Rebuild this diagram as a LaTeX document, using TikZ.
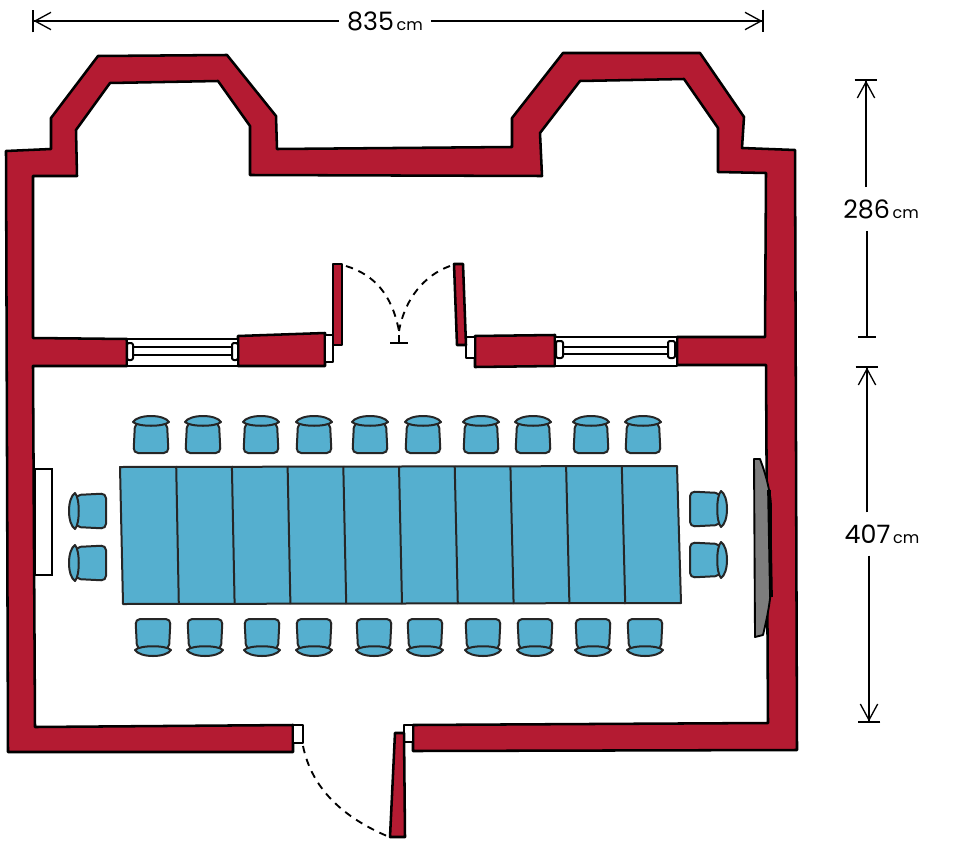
\documentclass[tikz,border=0pt]{standalone}
\usepackage{fontspec}
\setmainfont{Poppins}
\usetikzlibrary{arrows.meta}
\definecolor{wallred}{HTML}{B41B32}
\definecolor{seatblue}{HTML}{55AFCF}
\definecolor{screengray}{HTML}{7D7D7D}
\tikzset{
  wall/.style={fill=wallred, draw=black, line width=1.9pt, line join=round},
  opening/.style={fill=white, draw=black, line width=1.5pt, line join=round},
  swing/.style={draw=black, line width=1.4pt, dash pattern=on 5.5pt off 4.5pt},
  furniture/.style={fill=seatblue, draw=black!85, line width=1.5pt, line join=round},
  dimline/.style={draw=black, line width=0.9pt},
  dimtip/.style={-{Straight Barb[length=12pt,width=13pt,line width=1pt]Bar[width=17pt,line width=1.2pt]}},
  dimend/.style={-{Bar[width=13pt,line width=1.2pt]}},
  dimlabel/.style={inner xsep=6pt, inner ysep=9pt, font=\fontsize{19}{22}\selectfont},
  chair/.pic={
    \draw[furniture, rounded corners=3.5pt] (-16,-12) -- (16,-12) -- (17.5,18) -- (-17.5,18) -- cycle;
    \draw[furniture] (-18,-13) .. controls (-13,-21) and (13,-21) .. (18,-13)
      .. controls (13,-8) and (-13,-8) .. cycle;
  }
}
\newcommand{\cmtext}[1]{#1{\fontsize{12}{14}\selectfont\,cm}}

\begin{document}
\begin{tikzpicture}[x=0.75pt,y=-0.75pt]
  \useasboundingbox (0,0) rectangle (956,856);

  \draw[wall] (413,725) -- (413,751) -- (797,750) -- (795,150) -- (742,148) -- (744,117)
    -- (700,53) -- (563,53) -- (512,118) -- (512,147) -- (277,149) -- (276,116)
    -- (227,55) -- (98,56) -- (51,118) -- (51,149) -- (6,151) -- (8,752) -- (293,752)
    -- (293,725) -- (35,727) -- (33,366) -- (127,366) -- (127,339) -- (33,338) -- (33,176)
    -- (77,176) -- (76,130) -- (110,83) -- (218,81) -- (250,126) -- (250,175) -- (542,176)
    -- (540,133) -- (580,81) -- (684,79) -- (718,128) -- (718,172) -- (766,173) -- (765,337)
    -- (677,337) -- (677,365) -- (766,365) -- (768,723) -- cycle;
  \draw[wall] (238,336) -- (325,333) -- (325,366) -- (238,366) -- cycle;
  \draw[wall] (475,336) -- (555,335) -- (555,366) -- (475,367) -- cycle;

  \draw[opening] (127,339) rectangle (238,366);
  \draw[opening] (133,347) rectangle (232,355);
  \draw[opening, rounded corners=1.5pt] (127,343) rectangle (133,360);
  \draw[opening, rounded corners=1.5pt] (232,343) rectangle (238,360);
  \draw[opening] (555,337) rectangle (677,366);
  \draw[opening] (563,347) rectangle (668,354);
  \draw[opening, rounded corners=1.5pt] (556,341) rectangle (563,358);
  \draw[opening, rounded corners=1.5pt] (668,341) rectangle (675,358);

  \draw[opening] (325,335) rectangle (333,362);
  \draw[opening] (466,337) rectangle (475,358);
  \draw[opening] (293,725) rectangle (303,743);
  \draw[opening] (404,725) rectangle (413,742);
  \draw[wall] (333,264) -- (342,264) -- (342,345) -- (333,345) -- cycle;
  \draw[wall] (454,264) -- (463,264) -- (466,345) -- (457,345) -- cycle;
  \draw[wall] (395,733) -- (404,733) -- (405,837) -- (390,837) -- cycle;

  \coordinate (leftLeaf) at (346,266);
  \coordinate (rightLeaf) at (450,266);
  \coordinate (doorStop) at (399,331);
  \coordinate (stopBase) at (399,343);
  \coordinate (entryJamb) at (303,746);
  \coordinate (entryLeaf) at (387,836);
  \draw[swing] (leftLeaf) .. controls (375,275) and (392,295) .. (doorStop);
  \draw[swing] (rightLeaf) .. controls (425,275) and (405,298) .. (doorStop);
  \draw[swing] (entryJamb) .. controls (312,790) and (345,818) .. (entryLeaf);
  \draw[line width=1.4pt] (399,335) -- (stopBase);
  \draw[line width=1.4pt] (390,343) -- (408,343);

  \draw[fill=white, draw=black, line width=1.5pt] (35,469) rectangle (52,575);
  \draw[fill=screengray, draw=black, line width=1.4pt, line join=round] (754,459) -- (760,459)
    .. controls (766,475) and (770,490) .. (771,505) -- (771,590)
    .. controls (769,610) and (766,622) .. (763,635) -- (755,637) -- cycle;
  \draw[line width=2.8pt] (769,490) -- (771,597);

  \draw[furniture] (120,467) -- (677,466) -- (681,603) -- (123,604) -- cycle;
  \foreach \i in {1,...,9} {
    \draw[line width=1.5pt, draw=black!85] ({120.5+55.7*\i},466) -- ({123+55.8*\i},604);
  }
  \foreach \cx in {151,203,261,314,370,423,481,533,591,643} {
    \pic at (\cx,435) {chair};
  }
  \foreach \cx in {153,205,262,314,374,425,483,535,593,645} {
    \pic[rotate=180] at (\cx,637) {chair};
  }
  \foreach \cy in {511,563} {
    \pic[rotate=90] at (88,\cy) {chair};
  }
  \foreach \cy in {509,560} {
    \pic[rotate=-90] at (708,\cy) {chair};
  }

  \node[dimlabel] (width) at (385,21) {\cmtext{835}};
  \coordinate (widthL) at (32,21);
  \coordinate (widthR) at (764,21);
  \draw[dimline, dimtip] (width) -- (widthL);
  \draw[dimline, dimtip] (width) -- (widthR);

  \node[dimlabel] (upper) at (881,209) {\cmtext{286}};
  \coordinate (upperT) at (866,79);
  \coordinate (upperB) at (867,338);
  \draw[dimline, dimtip] (upperT |- upper.north) -- (upperT);
  \draw[dimline, dimend] (upperB |- upper.south) -- (upperB);

  \node[dimlabel] (lower) at (882,534) {\cmtext{407}};
  \coordinate (lowerT) at (867,366);
  \coordinate (lowerB) at (869,723);
  \draw[dimline, dimtip] (lowerT |- lower.north) -- (lowerT);
  \draw[dimline, dimtip] (lowerB |- lower.south) -- (lowerB);
\end{tikzpicture}
\end{document}
